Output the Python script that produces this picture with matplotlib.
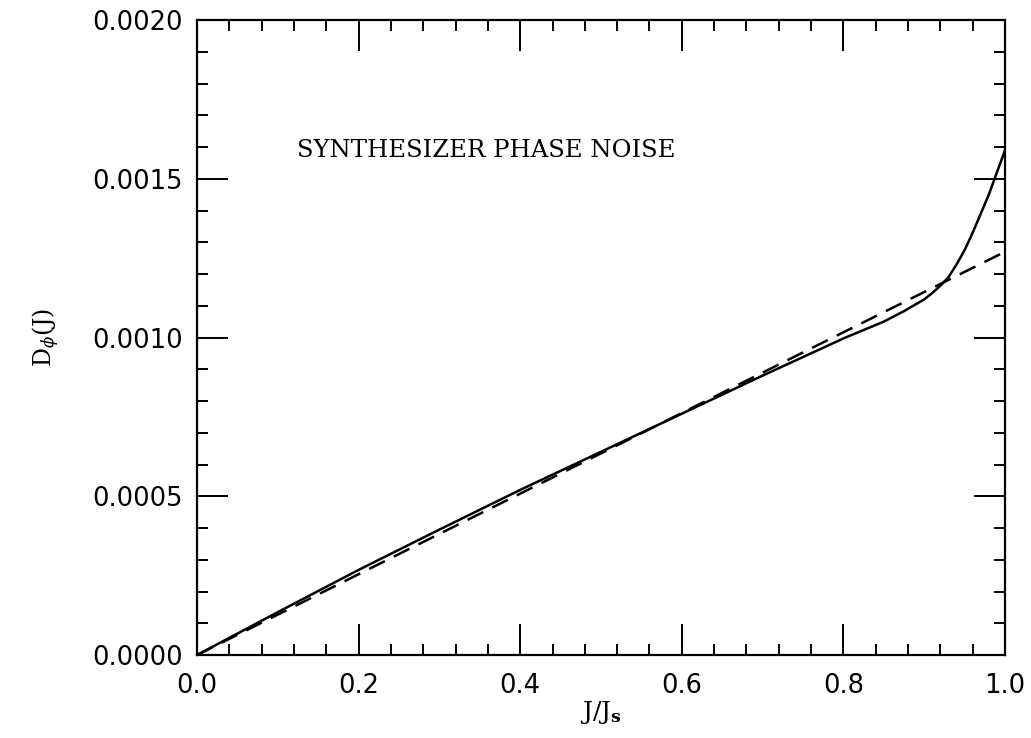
import matplotlib
matplotlib.use("Agg")
import matplotlib.pyplot as plt
from matplotlib.ticker import MultipleLocator, FormatStrFormatter

# solid curve: synthesizer phase structure function
j_solid = [0.0, 0.1, 0.2, 0.3, 0.4, 0.5, 0.6, 0.7, 0.8, 0.85, 0.875, 0.9,
           0.91, 0.92, 0.93, 0.94, 0.95, 0.96, 0.97, 0.98, 0.99, 1.0]
d_solid = [0.0, 0.000135, 0.000268, 0.000395, 0.00052, 0.00064, 0.00076,
           0.00088, 0.000997, 0.00105, 0.001083, 0.00112, 0.00114, 0.001163,
           0.00119, 0.00123, 0.001275, 0.00133, 0.00139, 0.00145, 0.00152,
           0.00159]

# dashed curve: linear fit
j_fit = [0.0, 0.25, 0.5, 0.75, 1.0]
d_fit = [0.0, 0.000318, 0.000635, 0.000953, 0.00127]

plt.rcParams['mathtext.fontset'] = 'dejavuserif'

fig = plt.figure(figsize=(10.31, 7.38), dpi=100)
ax = fig.add_axes([197/1031, 1 - 655/738, 808/1031, 635/738])

ax.plot(j_solid, d_solid, color='black', lw=1.8, solid_joinstyle='round')
ax.plot(j_fit, d_fit, color='black', lw=1.8, ls=(0, (7, 4)))

ax.set_xlim(0, 1.0)
ax.set_ylim(0, 0.002)
ax.xaxis.set_major_locator(MultipleLocator(0.2))
ax.xaxis.set_minor_locator(MultipleLocator(0.04))
ax.yaxis.set_major_locator(MultipleLocator(0.0005))
ax.yaxis.set_minor_locator(MultipleLocator(0.0001))
ax.xaxis.set_major_formatter(FormatStrFormatter('%.1f'))
ax.yaxis.set_major_formatter(FormatStrFormatter('%.4f'))

ax.tick_params(which='both', direction='in', top=True, right=True, width=1.4, color='black')
ax.tick_params(which='major', length=22, labelsize=18.5)
ax.tick_params(axis='x', which='major', pad=13)
ax.tick_params(axis='y', which='major', pad=10)
ax.tick_params(which='minor', length=8)
for s in ax.spines.values():
    s.set_linewidth(1.6)

ax.set_xlabel(r'$\mathrm{J/J}_{\mathbf{s}}$', fontsize=18, labelpad=0)
ax.set_ylabel(r'$\mathrm{D}_{\phi}\mathrm{(J)}$', fontsize=17, labelpad=22)

ax.text(0.124, 0.00159, 'SYNTHESIZER PHASE NOISE', family='DejaVu Serif',
        fontsize=17.5, va='center', ha='left')

fig.savefig('out.png', dpi=100)
